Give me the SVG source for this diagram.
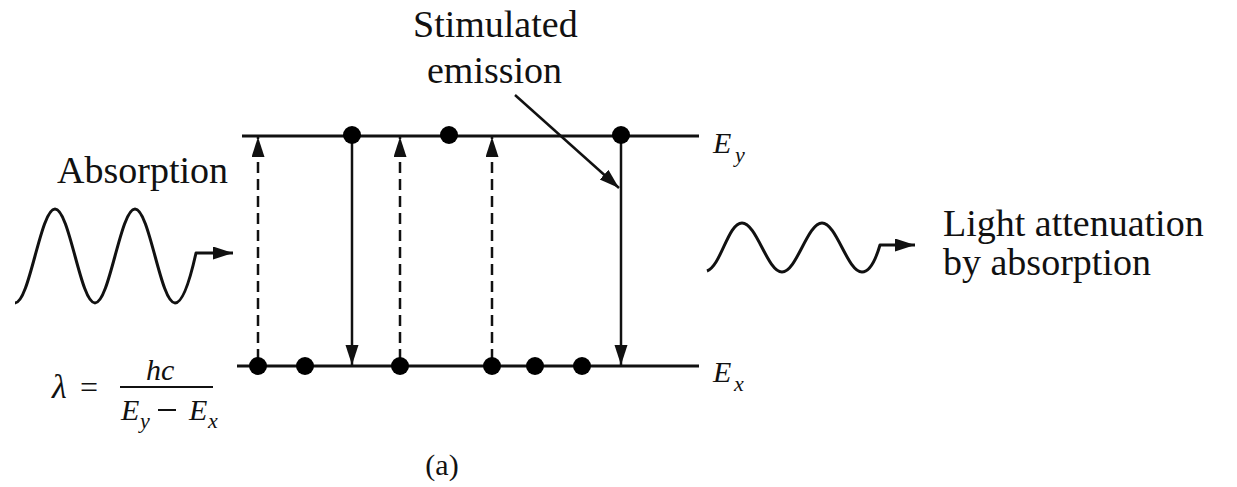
<svg xmlns="http://www.w3.org/2000/svg" width="1237" height="487" viewBox="0 0 1237 487">
<style>
text{font-family:"Liberation Serif","Times New Roman",serif;fill:#111}
.lbl{font-size:38px}
.it{font-style:italic}
.lvl{stroke:#111;stroke-width:3;fill:none}
.ar{stroke:#111;stroke-width:2.5;fill:none}
.dash{stroke-dasharray:11 6}
.wave{stroke:#111;stroke-width:3;fill:none;stroke-linejoin:round}
.dot{fill:#000}
</style>
<defs>
<marker id="ah" markerUnits="userSpaceOnUse" markerWidth="22" markerHeight="14" refX="20" refY="6.5" orient="auto">
<path d="M0,0 L20,6.5 L0,13 z" fill="#111"/>
</marker>
</defs>
<g id="levels">
<line class="lvl" x1="242" y1="136" x2="699" y2="136"/>
<line class="lvl" x1="237" y1="366" x2="699" y2="366"/>
</g>
<g id="connectors">
<line class="ar dash" x1="258" y1="360" x2="258" y2="137" marker-end="url(#ah)"/>
<line class="ar dash" x1="400" y1="360" x2="400" y2="137" marker-end="url(#ah)"/>
<line class="ar dash" x1="492" y1="360" x2="492" y2="137" marker-end="url(#ah)"/>
<line class="ar" x1="352" y1="140" x2="352" y2="365" marker-end="url(#ah)"/>
<line class="ar" x1="621" y1="140" x2="621" y2="365" marker-end="url(#ah)"/>
<line class="ar" x1="515" y1="95" x2="619" y2="188" marker-end="url(#ah)"/>
</g>
<g id="electrons">
<circle class="dot" cx="352" cy="135" r="9"/>
<circle class="dot" cx="449" cy="135" r="9"/>
<circle class="dot" cx="621" cy="135" r="9"/>
<circle class="dot" cx="258" cy="366" r="9"/>
<circle class="dot" cx="305" cy="366" r="9"/>
<circle class="dot" cx="400" cy="366" r="9"/>
<circle class="dot" cx="492" cy="366" r="9"/>
<circle class="dot" cx="535" cy="366" r="9"/>
<circle class="dot" cx="582" cy="366" r="9"/>
</g>
<g id="wave-in">
<path class="wave" d="M15,303 C29.6,303 40.4,209 55,209 C69.6,209 80.4,303 95,303 C109.6,303 120.4,209 135,209 C149.6,209 160.4,303 175,303 C183,303 190,280 196,253 L233,253" marker-end="url(#ah)"/>
</g>
<g id="wave-out">
<path class="wave" d="M707,271 C721,266 728,223 742,223 C756.6,223 767.4,272 782,272 C796.6,272 807.4,223 822,223 C836.6,223 847.4,272 862,272 C869,272 875,262 880,245 L915,245" marker-end="url(#ah)"/>
</g>
<g id="label-absorption"><text class="lbl" x="57" y="183">Absorption</text></g>
<g id="label-stimulated">
<text class="lbl" x="413" y="37">Stimulated</text>
<text class="lbl" x="427" y="83">emission</text>
</g>
<g id="label-attenuation">
<text class="lbl" x="943" y="236">Light attenuation</text>
<text class="lbl" x="943" y="275">by absorption</text>
</g>
<g id="label-Ey">
<text class="it" x="713" y="153" font-size="30">E</text>
<text class="it" x="735" y="162" font-size="22">y</text>
</g>
<g id="label-Ex">
<text class="it" x="713" y="382" font-size="30">E</text>
<text class="it" x="734" y="391" font-size="22">x</text>
</g>
<g id="equation">
<text class="it" x="52" y="398" font-size="34">λ</text>
<text x="80" y="398" font-size="32">=</text>
<text class="it" x="146" y="380" font-size="30">hc</text>
<line x1="120" y1="387" x2="213" y2="387" stroke="#111" stroke-width="2"/>
<text class="it" x="121" y="420" font-size="30">E</text>
<text class="it" x="140" y="428" font-size="22">y</text>
<line x1="158" y1="410" x2="176" y2="410" stroke="#111" stroke-width="2"/>
<text class="it" x="189" y="420" font-size="30">E</text>
<text class="it" x="208" y="428" font-size="22">x</text>
</g>
<g id="caption"><text x="442" y="475" font-size="30" text-anchor="middle">(a)</text></g>
</svg>
